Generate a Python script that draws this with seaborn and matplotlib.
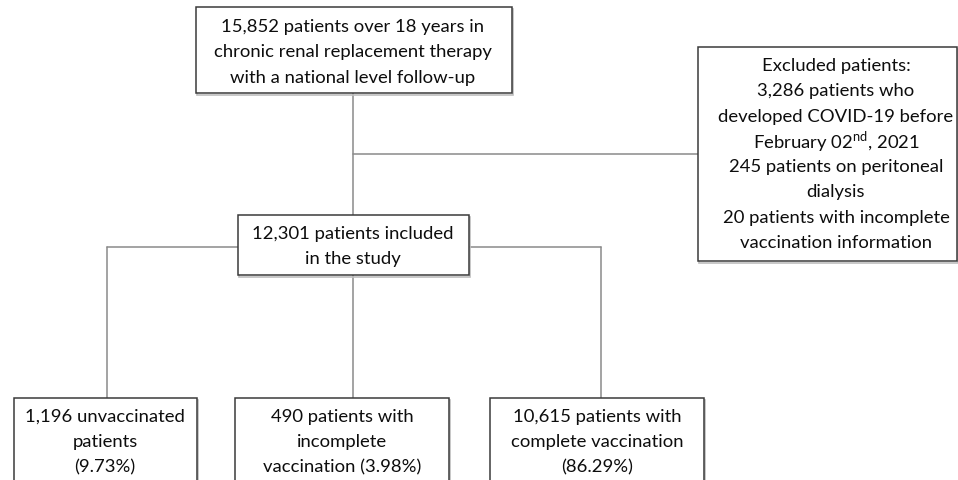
import matplotlib
matplotlib.use("Agg")
import matplotlib.pyplot as plt
import seaborn as sns
import pandas as pd

# ---- content ----
top_text = ["15,852 patients over 18 years in",
            "chronic renal replacement therapy",
            "with a national level follow-up"]
excluded_text = ["Excluded patients:",
                 "3,286 patients who",
                 "developed COVID-19 before",
                 "February 02$^{\\mathrm{nd}}$, 2021",
                 "245 patients on peritoneal",
                 "dialysis",
                 "20 patients with incomplete",
                 "vaccination information"]
included_text = ["12,301 patients included", "in the study"]
group_texts = [["1,196 unvaccinated", "patients", "(9.73%)"],
               ["490 patients with", "incomplete", "vaccination (3.98%)"],
               ["10,615 patients with", "complete vaccination", "(86.29%)"]]

# ---- layout (pixel coordinates) ----
W, H = 958, 481
boxes = {
    "top": (196, 8, 512, 94),
    "exc": (698, 48, 957, 262),
    "inc": (238, 216, 469, 276),
    "g0": (14, 399, 197, 490),
    "g1": (235, 399, 449, 490),
    "g2": (490, 399, 704, 490),
}
text_pos = {
    "top": (353, 27),
    "exc": (836, 66),
    "inc": (353, 234),
    "g0": (105, 417),
    "g1": (342, 417),
    "g2": (597, 417),
}
LINE = 25.3

sns.set_theme(style="white")
plt.rcParams["font.family"] = ["Lato", "DejaVu Sans"]
plt.rcParams["mathtext.fontset"] = "custom"
plt.rcParams["mathtext.rm"] = "Lato"

fig = plt.figure(figsize=(W / 100, H / 100), dpi=100)
ax = fig.add_axes([0, 0, 1, 1])
ax.set_xlim(0, W)
ax.set_ylim(H, 0)
ax.axis("off")

conn_color = "#8a8a8a"
segments = [
    ((353, 94), (353, 216)),
    ((353, 155), (698, 155)),
    ((107, 248), (238, 248)),
    ((469, 248), (601, 248)),
    ((107, 248), (107, 399)),
    ((601, 248), (601, 399)),
    ((353, 276), (353, 399)),
]
for i, (p, q) in enumerate(segments):
    seg = pd.DataFrame({"x": [p[0], q[0]], "y": [p[1], q[1]]})
    sns.lineplot(data=seg, x="x", y="y", sort=False, estimator=None,
                 color=conn_color, lw=1.1, ax=ax)

from matplotlib.patches import Rectangle
for key, (x0, y0, x1, y1) in boxes.items():
    # soft shadow
    ax.add_patch(Rectangle((x0 + 1.5, y0 + 1.5), x1 - x0, y1 - y0, fill=False,
                           edgecolor="#bdbdbd", lw=1.2, zorder=2))
    ax.add_patch(Rectangle((x0, y0), x1 - x0, y1 - y0, facecolor="white",
                           edgecolor="#3a3a3a", lw=1.1, zorder=3))

def put(lines, key, size=13.3):
    cx, cy = text_pos[key]
    for i, s in enumerate(lines):
        ax.text(cx, cy + i * LINE, s, ha="center", va="center",
                fontsize=size, color="#0d0d0d", zorder=4)

put(top_text, "top")
put(excluded_text, "exc")
put(included_text, "inc")
for i, g in enumerate(group_texts):
    put(g, f"g{i}")

ax.set_xlabel("")
ax.set_ylabel("")
fig.savefig("out.png", dpi=100)
